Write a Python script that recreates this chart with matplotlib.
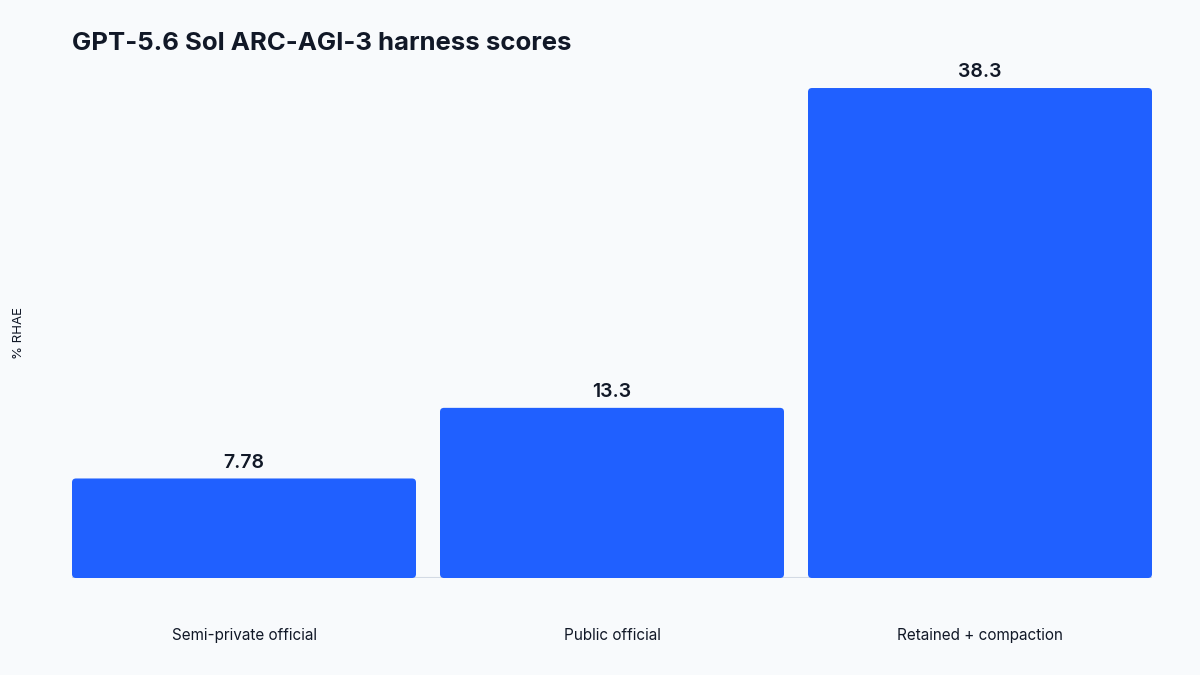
import matplotlib
matplotlib.use("Agg")
import matplotlib.pyplot as plt
from matplotlib.patches import FancyBboxPatch

# =====================================================
# DADOS
# =====================================================
categorias = ["Semi-private official", "Public official", "Retained + compaction"]
valores = [7.78, 13.3, 38.3]
rotulos = ["7.78", "13.3", "38.3"]

titulo = "GPT-5.6 Sol ARC-AGI-3 harness scores"
rotulo_y = "% RHAE"

cor_fundo = "#f8fafc"
cor_barra = "#2060ff"
cor_texto = "#111827"

plt.rcParams['font.family'] = ['Inter', 'DejaVu Sans']

# =====================================================
# FIGURA
# =====================================================
fig = plt.figure(figsize=(12, 6.75), dpi=100, facecolor=cor_fundo)
ax = fig.add_axes([0.06, 0.1437, 0.90, 0.7259])
ax.set_facecolor(cor_fundo)

largura = 344 / 368
x = list(range(len(categorias)))
barras = ax.bar(x, valores, width=largura, color=cor_barra)

ax.set_xlim(-largura / 2, len(categorias) - 1 + largura / 2)
ax.set_ylim(0, max(valores))

# cantos arredondados
fig.canvas.draw()
bbox = ax.get_window_extent()
x_por_px = (ax.get_xlim()[1] - ax.get_xlim()[0]) / bbox.width
y_por_px = (ax.get_ylim()[1] - ax.get_ylim()[0]) / bbox.height
for b in barras:
    b.set_visible(False)
    p = FancyBboxPatch((b.get_x(), b.get_y()), b.get_width(), b.get_height(),
                       boxstyle="round,pad=0,rounding_size=%f" % (4 * x_por_px),
                       mutation_aspect=y_por_px / x_por_px,
                       facecolor=cor_barra, edgecolor="none", clip_on=False)
    ax.add_patch(p)

for xi, v, r in zip(x, valores, rotulos):
    ax.annotate(r, (xi, v), xytext=(0, 5), textcoords="offset points",
                ha="center", va="bottom", fontsize=14, fontweight="semibold",
                color=cor_texto)

ax.axhline(0, color="#d3dae4", lw=1.5, zorder=0)

for s in ax.spines.values():
    s.set_visible(False)
ax.set_yticks([])
ax.set_xticks(x)
ax.set_xticklabels(categorias, fontsize=11, color=cor_texto)
ax.tick_params(axis="x", length=0, pad=36)

fig.text(0.06, 0.952, titulo, fontsize=18.5, fontweight="bold",
         color=cor_texto, ha="left", va="top")
fig.text(0.016, 0.507, rotulo_y, fontsize=9.5, rotation=90,
         color=cor_texto, ha="center", va="center")

fig.savefig("out.png", dpi=100, facecolor=cor_fundo)
